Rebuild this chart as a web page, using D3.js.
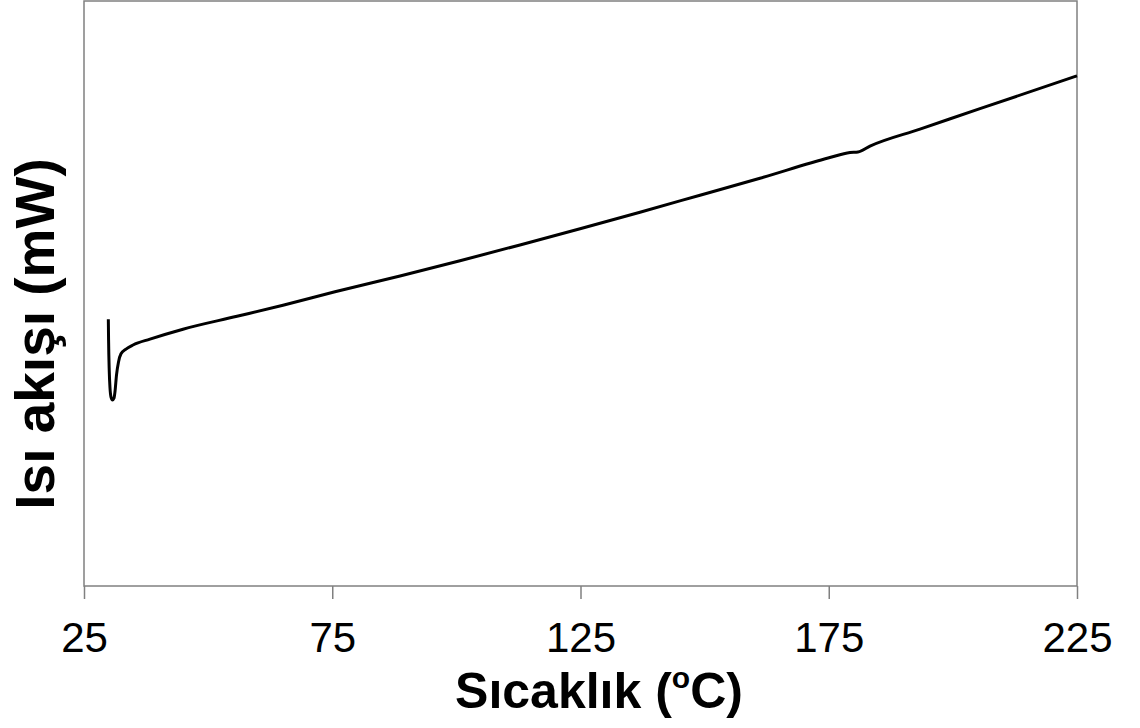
<!DOCTYPE html>
<html>
<head>
<meta charset="utf-8">
<script src="https://cdn.jsdelivr.net/npm/d3@7"></script>
<style>
  html, body { margin: 0; padding: 0; background: #fff; }
  svg { display: block; }
  text { font-family: "Liberation Sans", Arial, sans-serif; fill: #000; }
</style>
</head>
<body>
<svg id="chart" width="1140" height="728"></svg>
<script>
// Data (temperature °C, heat flow in arbitrary mW units)
const temperature = [29.90, 29.95, 30.08, 30.24, 30.44, 30.74, 31.04, 31.24, 31.55, 31.95, 32.45, 33.46, 34.87, 38.29, 44.94, 55.82, 65.08, 75.55, 88.65, 100.73, 112.81, 125.10, 136.98, 149.07, 161.15, 175.05, 179.28, 180.89, 183.31, 193.38, 205.46, 225.00];
const heatFlow    = [4.56, 4.21, 3.69, 3.38, 3.23, 3.18, 3.21, 3.32, 3.61, 3.83, 3.97, 4.05, 4.12, 4.22, 4.39, 4.61, 4.80, 5.03, 5.30, 5.56, 5.83, 6.11, 6.39, 6.68, 6.97, 7.32, 7.41, 7.42, 7.52, 7.81, 8.16, 8.72];
const xTicks = [25, 75, 125, 175, 225];
const xDomain = [25, 225];
const yDomain = [0, 10];
const xTitle = "Sıcaklık (";
const xTitleSup = "o";
const xTitleEnd = "C)";
const yTitle = "Isı akışı (mW)";

const svg = d3.select("#chart");
const plot = { left: 84, right: 1077, top: 1, bottom: 586 };

const x = d3.scaleLinear().domain(xDomain).range([plot.left, plot.right]);
const y = d3.scaleLinear().domain(yDomain).range([plot.bottom, plot.top]);

// frame
svg.append("rect")
  .attr("x", plot.left).attr("y", plot.top)
  .attr("width", plot.right - plot.left).attr("height", plot.bottom - plot.top)
  .attr("fill", "none").attr("stroke", "#808080").attr("stroke-width", 1.5);

// x axis
const xAxis = svg.append("g")
  .attr("transform", `translate(0,${plot.bottom})`)
  .call(d3.axisBottom(x).tickValues(xTicks).tickSize(13).tickSizeOuter(0).tickFormat(d3.format("d")));
xAxis.select(".domain").remove();
xAxis.selectAll(".tick line").attr("stroke", "#808080").attr("stroke-width", 1.5);
xAxis.selectAll(".tick text")
  .attr("y", 66).attr("dy", 0)
  .attr("font-size", 42)
  .style("font-family", "'Liberation Sans', Arial, sans-serif")
  .attr("fill", "#000");

// line
const data = temperature.map((t, i) => ({ t, v: heatFlow[i] }));
svg.append("path")
  .datum(data)
  .attr("fill", "none")
  .attr("stroke", "#000")
  .attr("stroke-width", 3)
  .attr("stroke-linejoin", "round")
  .attr("d", d3.line().x(d => x(d.t)).y(d => y(d.v)).curve(d3.curveMonotoneX));

// x title
const xt = svg.append("text")
  .attr("x", 599).attr("y", 708)
  .attr("text-anchor", "middle")
  .attr("font-size", 50).attr("font-weight", "bold");
xt.append("tspan").text(xTitle);
xt.append("tspan").attr("font-size", 30).attr("dy", -20).text(xTitleSup);
xt.append("tspan").attr("dy", 20).text(xTitleEnd);

// y title
svg.append("text")
  .attr("transform", "translate(54,334) rotate(-90)")
  .attr("text-anchor", "middle")
  .attr("font-size", 55).attr("font-weight", "bold")
  .text(yTitle);
</script>
</body>
</html>
